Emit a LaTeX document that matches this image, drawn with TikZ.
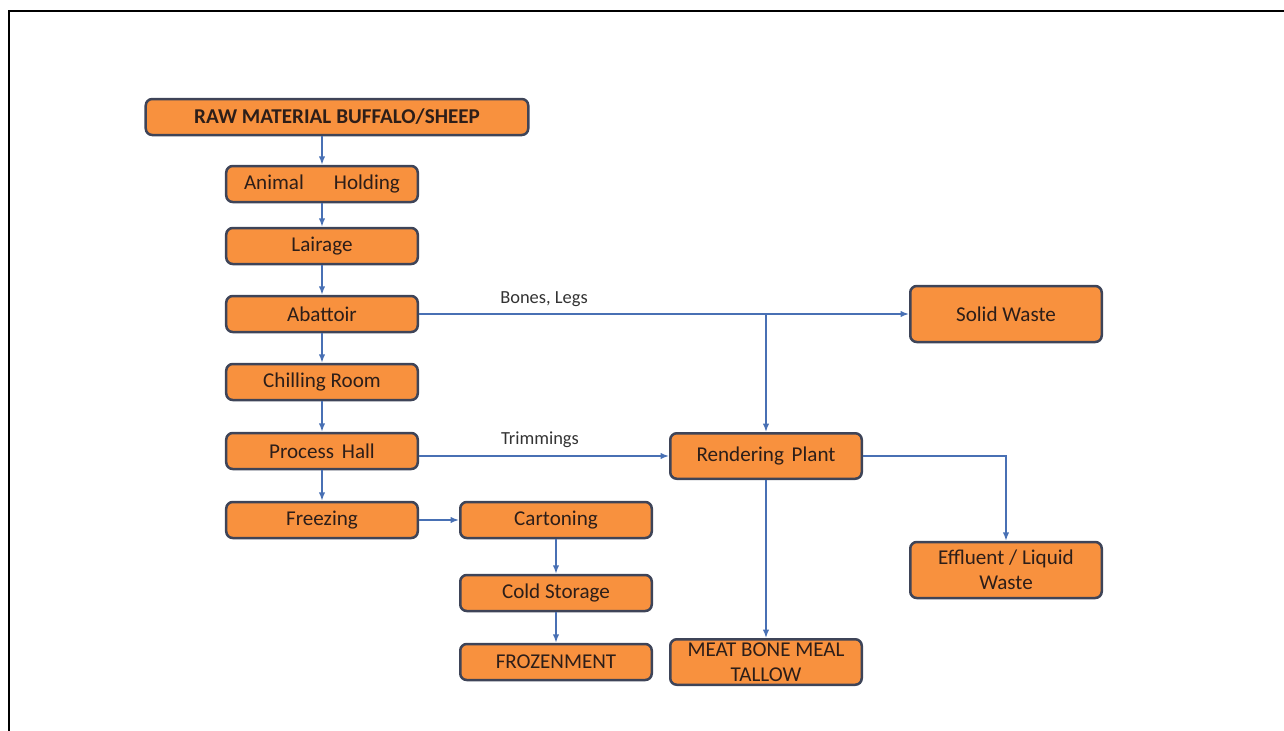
\documentclass[tikz,border=0pt]{standalone}
\usepackage{fontspec}
\setmainfont{Carlito}
\usetikzlibrary{arrows.meta}
\definecolor{boxorange}{RGB}{248,145,62}
\definecolor{boxborder}{RGB}{62,68,88}
\definecolor{boxtext}{RGB}{45,30,25}
\definecolor{flowblue}{RGB}{72,112,180}
\begin{document}
\begin{tikzpicture}[x=0.2mm, y=-0.2mm,
		>={Latex[length=1.7mm,width=1.3mm]},   % default arrow tip
		stepbox/.style={draw=boxborder, fill=boxorange, line width=0.5mm, rounded corners=1.3mm,
			minimum width=38.3mm, minimum height=7.2mm, inner sep=0pt, align=center,
			text=boxtext, font=\fontsize{12}{14.5}\selectfont},
		tallbox/.style={stepbox, minimum height=9.1mm},
		wastebox/.style={stepbox, minimum height=11.2mm},
		flow/.style={->, draw=flowblue, line width=0.3mm},
		flowlabel/.style={text=black!80, font=\fontsize{10.5}{12}\selectfont}]
	% page and frame
	\useasboundingbox (0,0) rectangle (1284,731);
	\draw[line width=0.5mm] (1284,11) -- (9,11) -- (9,731);
	% main line
	\node[stepbox, minimum width=76.5mm, font=\bfseries\fontsize{12}{14.5}\selectfont] (raw) at (337,117) {RAW MATERIAL\hspace{1mm}BUFFALO/SHEEP};
	\node[stepbox] (holding)  at (322,184) {Animal\hspace{6mm}Holding};
	\node[stepbox] (lairage)  at (322,246) {Lairage};
	\node[stepbox] (abattoir) at (322,314) {Abattoir};
	\node[stepbox] (chilling) at (322,382) {Chilling Room};
	\node[stepbox] (process)  at (322,451) {Process\hspace{0.6mm} Hall};
	\node[stepbox] (freezing) at (322,520) {Freezing};
	% packing
	\node[stepbox] (carton) at (556,520) {Cartoning};
	\node[stepbox] (cold)   at (556,593) {Cold Storage};
	\node[stepbox] (frozen) at (556,662) {FROZENMENT};
	% by-products
	\node[tallbox] (render) at (766,456) {Rendering\hspace{0.6mm} Plant};
	\node[tallbox] (meat)   at (766,662) {MEAT BONE MEAL\\TALLOW};
	\node[wastebox] (solid)    at (1006,314) {Solid Waste};
	\node[wastebox] (effluent) at (1006,570) {Effluent / Liquid\\Waste};
	% labels
	\node[flowlabel] (bones) at (544,299) {Bones, Legs};
	\node[flowlabel] (trim)  at (540,440) {Trimmings};
	% connectors
	\draw[flow] (holding.north |- raw.south) -- (holding.north);
	\foreach \a/\b in {holding/lairage, lairage/abattoir, abattoir/chilling, chilling/process, process/freezing, carton/cold, cold/frozen, render/meat}
		\draw[flow] (\a) -- (\b);
	\draw[flow] (freezing) -- (carton);
	\draw[flow] (abattoir.east) -- (solid.west);
	\coordinate (branch) at (render.north |- abattoir.east);
	\draw[flow] (branch) -- (render.north);
	\draw[flow] (process.east |- render.west) -- (render.west);
	\draw[flow] (render.east) -| (effluent.north);
\end{tikzpicture}
\end{document}
